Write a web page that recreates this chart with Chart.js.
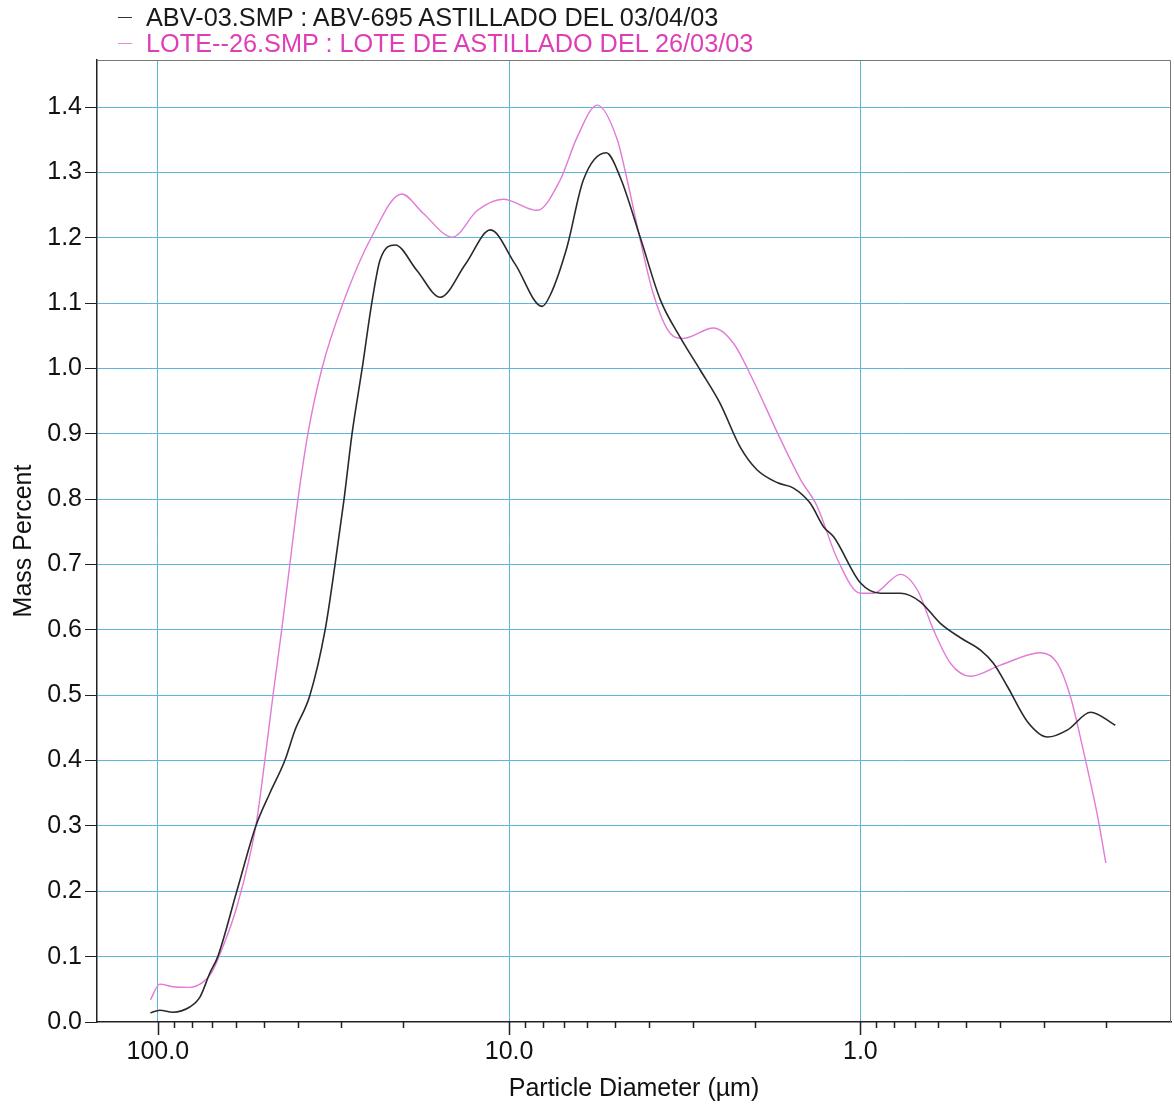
<!DOCTYPE html>
<html lang="es">
<head>
    <meta charset="UTF-8">
    <title>Particle Size Distribution</title>
    <script src="https://cdn.jsdelivr.net/npm/chart.js"></script>
    <style>
        body { margin: 0; background: #fff; }
        .wrap { position: relative; width: 1174px; height: 1107px; }
        .legend {
            position: absolute; left: 118px; top: 4px;
            font: 25.3px "Liberation Sans", Arial, sans-serif;
        }
        .legend .row { display: flex; align-items: center; height: 26px; }
        .legend .swatch { width: 14px; height: 0; margin-right: 14px; border-top: 1.5px solid; }
    </style>
</head>
<body>
<div class="wrap">
    <div class="legend">
        <div class="row" style="color:#1a1a1a"><span class="swatch" style="border-color:#333"></span>ABV-03.SMP : ABV-695 ASTILLADO DEL 03/04/03</div>
        <div class="row" style="color:#df3fb6"><span class="swatch" style="border-color:#e58ad8"></span>LOTE--26.SMP : LOTE DE ASTILLADO DEL 26/03/03</div>
    </div>
    <canvas id="psdChart" width="1174" height="1107"></canvas>
</div>

<script>
    // particle diameter (um) and mass percent
    const abvDiameter = [105, 98.7, 90.6, 81.1, 75.9, 71.1, 67.5, 59.6, 52.6, 48.0, 43.5, 40.8, 36.9, 33.4, 31.3, 29.5, 28.0, 26.2, 24.6, 23.3,
        21.1, 18.3, 15.7, 13.3, 11.3, 9.62, 8.05, 7.64, 6.84, 6.15, 5.29, 4.83, 4.23, 3.71, 3.26, 2.86, 2.51, 2.20, 1.97, 1.72,
        1.55, 1.39, 1.27, 1.19, 1.00, 0.877, 0.769, 0.675, 0.592, 0.519, 0.455, 0.418, 0.381, 0.334, 0.293, 0.257, 0.221, 0.188];
    const abvMass = [0.014, 0.018, 0.015, 0.023, 0.038, 0.075, 0.10, 0.20, 0.30, 0.35, 0.40, 0.445, 0.50, 0.60, 0.70, 0.80, 0.90, 1.00, 1.10, 1.166,
        1.189, 1.15, 1.109, 1.16, 1.212, 1.16, 1.095, 1.112, 1.186, 1.288, 1.330, 1.293, 1.20, 1.105, 1.048, 0.998, 0.947, 0.88, 0.845, 0.825,
        0.817, 0.794, 0.757, 0.742, 0.672, 0.656, 0.656, 0.643, 0.61, 0.588, 0.569, 0.549, 0.513, 0.459, 0.436, 0.447, 0.474, 0.454];

    const loteDiameter = [105, 98.7, 90.6, 81.1, 74.4, 70.2, 65.3, 59.6, 52.6, 49.6, 47.0, 44.4, 42.1, 39.9, 37.4, 34.1, 29.7, 24.7, 20.2, 17.6,
        14.5, 12.3, 10.4, 8.32, 7.16, 6.40, 5.61, 4.92, 4.61, 4.23, 3.89, 3.48, 3.19, 2.62, 2.30, 2.02, 1.72, 1.48, 1.33, 1.16,
        1.00, 0.918, 0.769, 0.688, 0.619, 0.554, 0.486, 0.399, 0.307, 0.275, 0.252, 0.232, 0.211, 0.200];
    const loteMass = [0.034, 0.058, 0.054, 0.053, 0.061, 0.076, 0.115, 0.176, 0.30, 0.40, 0.50, 0.60, 0.70, 0.80, 0.90, 1.00, 1.10, 1.20, 1.267, 1.238,
        1.201, 1.242, 1.259, 1.242, 1.288, 1.354, 1.403, 1.35, 1.288, 1.196, 1.115, 1.054, 1.046, 1.062, 1.039, 0.982, 0.901, 0.83, 0.79, 0.707,
        0.656, 0.656, 0.685, 0.661, 0.60, 0.549, 0.529, 0.546, 0.565, 0.549, 0.497, 0.416, 0.314, 0.243];

    const xMajorTicks = [100, 10, 1];
    const xMinorTicks = [90, 80, 70, 60, 50, 40, 30, 20, 9, 8, 7, 6, 5, 4, 3, 2, 0.9, 0.8, 0.7, 0.6, 0.5, 0.4, 0.3, 0.2];
    const yTicks = [0.0, 0.1, 0.2, 0.3, 0.4, 0.5, 0.6, 0.7, 0.8, 0.9, 1.0, 1.1, 1.2, 1.3, 1.4];

    const gridBlue = '#5db7dc';
    const font = { family: '"Liberation Sans", Arial, sans-serif', size: 25 };

    // top/right frame and the x tick marks (long at decades, short between)
    const frameTicks = {
        id: 'frameTicks',
        afterDraw(chart) {
            const { ctx, chartArea: a, scales: { x } } = chart;
            ctx.save();
            ctx.strokeStyle = '#777';
            ctx.lineWidth = 1;
            ctx.beginPath();
            ctx.moveTo(a.left, a.top + 0.5);
            ctx.lineTo(a.right - 0.5, a.top + 0.5);
            ctx.lineTo(a.right - 0.5, a.bottom);
            ctx.stroke();

            ctx.strokeStyle = '#222';
            ctx.lineWidth = 1.5;
            ctx.beginPath();
            xMinorTicks.forEach(v => {
                const px = Math.round(x.getPixelForValue(v)) + 0.5;
                ctx.moveTo(px, a.bottom);
                ctx.lineTo(px, a.bottom + 6);
            });
            xMajorTicks.forEach(v => {
                const px = Math.round(x.getPixelForValue(v)) + 0.5;
                ctx.moveTo(px, a.bottom);
                ctx.lineTo(px, a.bottom + 13);
            });
            ctx.stroke();
            ctx.restore();
        }
    };

    const ctx = document.getElementById('psdChart').getContext('2d');
    new Chart(ctx, {
        type: 'line',
        data: {
            datasets: [{
                label: 'ABV-03.SMP : ABV-695 ASTILLADO DEL 03/04/03',
                data: abvDiameter.map((d, i) => ({ x: d, y: abvMass[i] })),
                borderColor: '#2a2a2a',
                borderWidth: 1.6,
                pointRadius: 0,
                cubicInterpolationMode: 'monotone'
            }, {
                label: 'LOTE--26.SMP : LOTE DE ASTILLADO DEL 26/03/03',
                data: loteDiameter.map((d, i) => ({ x: d, y: loteMass[i] })),
                borderColor: '#e27ad6',
                borderWidth: 1.4,
                pointRadius: 0,
                cubicInterpolationMode: 'monotone'
            }]
        },
        options: {
            responsive: false,
            animation: false,
            events: [],
            layout: { padding: { top: 60, right: 3, left: 0, bottom: 0 } },
            plugins: {
                legend: { display: false },
                tooltip: { enabled: false }
            },
            scales: {
                x: {
                    type: 'logarithmic',
                    reverse: true,
                    min: 0.1305,
                    max: 149,
                    afterBuildTicks: s => {
                        s.ticks = xMajorTicks.concat(xMinorTicks)
                            .sort((a, b) => b - a)
                            .map(v => ({ value: v }));
                    },
                    afterFit: s => { s.height = 85; },
                    ticks: {
                        autoSkip: false,
                        maxRotation: 0,
                        padding: 2,
                        color: '#111',
                        font: font,
                        callback: v => xMajorTicks.includes(v) ? v.toFixed(1) : ''
                    },
                    grid: {
                        color: c => c.tick && xMajorTicks.includes(c.tick.value) ? gridBlue : 'transparent',
                        tickLength: 13,
                        tickColor: 'transparent'
                    },
                    border: { color: '#222', width: 1.5 },
                    title: {
                        display: true,
                        text: 'Particle Diameter (µm)',
                        color: '#111',
                        font: font,
                        padding: { top: 0, bottom: 3 }
                    }
                },
                y: {
                    min: 0,
                    max: 1.472,
                    afterBuildTicks: s => { s.ticks = yTicks.map(v => ({ value: v })); },
                    afterFit: s => { s.width = 97; },
                    ticks: {
                        padding: 3,
                        color: '#111',
                        font: font,
                        callback: v => v.toFixed(1)
                    },
                    grid: {
                        color: c => c.tick && c.tick.value === 0 ? 'transparent' : gridBlue,
                        tickColor: '#222',
                        tickLength: 12
                    },
                    border: { color: '#222', width: 1.5 },
                    title: {
                        display: true,
                        text: 'Mass Percent',
                        color: '#111',
                        font: font,
                        padding: { top: 9, bottom: 0 }
                    }
                }
            }
        },
        plugins: [frameTicks]
    });
</script>
</body>
</html>
